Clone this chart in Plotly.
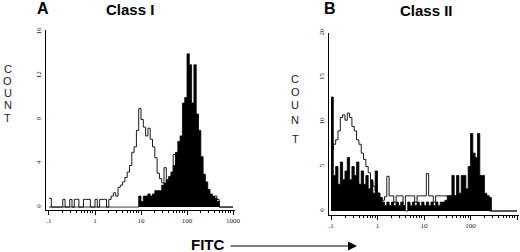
import numpy as np
import plotly.graph_objects as go

# ---------------- data ----------------
# histogram channels: 80 bins, 0.05 decade each, starting at FITC = 0.1
BIN_LOG_START = -1.0
BIN_LOG_WIDTH = 0.05

A_open = [0.8, 0, 0, 0, 0, 0, 0.7, 0, 0, 0.7,
          0, 0.7, 0.7, 0, 0, 0.7, 0.7, 0.7, 0, 0,
          0.7, 0, 0.7, 0.7, 0.7, 0, 0.7, 1, 1.3, 1,
          1.8, 2, 2.3, 2.7, 3.2, 3.8, 5, 5.5, 7, 9,
          8, 7.3, 6.5, 7.2, 6.2, 5.5, 4.5, 3.1, 2.6, 2.2,
          3.6, 2.2, 2.4, 2.2, 4.8, 3, 2.7, 2.5, 2.2, 2,
          1.5, 1.5, 1, 1, 1, 1, 1, 1, 1, 0.7,
          1, 0.7, 1, 0.7, 0, 0, 0, 0, 0, 0]
A_pos = [0, 0, 0, 0, 0, 0, 0, 0, 0, 0,
         0, 0, 0, 0, 0, 0, 0, 0, 0, 0,
         0, 0, 0, 0, 0, 0, 0, 0, 0, 0,
         0, 0, 0, 0, 0, 0, 0, 0, 0, 1,
         0.5, 1, 1, 1.2, 1, 1.2, 1.5, 1.5, 1.5, 2,
         2.2, 2.5, 2.8, 3.2, 3.8, 5, 6, 6.5, 9.5, 10,
         14, 13, 9.5, 13, 8.5, 7, 4.6, 3, 2.3, 1.6,
         1.2, 1, 0.8, 0.5, 0, 0, 0, 0, 0, 0]

B_open = [7, 7.5, 8, 9, 10.5, 10.8, 10.2, 11, 10.5, 9.5,
          9, 8, 7.5, 6.5, 5.8, 5, 4.3, 3.3, 2.8, 2.3,
          2, 1.5, 1.2, 1.6, 3.9, 1.7, 1.7, 1, 1.7, 1.7,
          1.7, 0.6, 1.7, 1.7, 1.7, 1.7, 1, 1.7, 1.7, 1.7,
          1.7, 4.2, 1.7, 1.7, 1, 1.7, 1.7, 1.7, 1.7, 1.7,
          1.7, 1.7, 1.7, 1.7, 1.7, 1.7, 1.7, 1.7, 1.7, 1.7,
          1.7, 1.7, 1.7, 1.7, 1.7, 1.7, 1.7, 1.7, 0, 0,
          0, 0, 0, 0, 0, 0, 0, 0, 0, 0]
B_pos = [12.8, 4, 5, 3, 5.5, 3.5, 4.5, 6, 3.5, 5,
         4, 5.5, 3, 4.5, 3, 4, 2.5, 3.5, 2, 4.5,
         2, 1.5, 1, 0.6, 1, 0.6, 1, 0.6, 1, 0.6,
         1, 0.6, 0, 1, 0.6, 1, 0.6, 1, 0.6, 1,
         0.6, 1, 0.6, 1, 0.6, 1, 0.6, 1, 1, 1.2,
         1.7, 1.7, 4, 1.7, 4, 2, 4, 4, 2.5, 5,
         8.7, 6.5, 6, 8.7, 4, 4, 2, 1.7, 1.5, 0,
         0, 0, 0, 0, 0, 0, 0, 0, 0, 0]

X_TICKS = [0.1, 1, 10, 100, 1000]
X_TICKTEXT = [".1", "1", "10", "100", "1000"]
A_YTICKS = [0, 4, 8, 12, 16]
B_YTICKS = [0, 5, 10, 15, 20]
COUNT_LETTERS = list("COUNT")

# ---------------- figure ----------------
W, H = 520, 252
edges = 10 ** (BIN_LOG_START + BIN_LOG_WIDTH * np.arange(len(A_open) + 1))
minor_vals = [d * 10 ** e for e in range(-1, 3) for d in range(2, 10)]


def step(vals):
    return list(vals) + [vals[-1]]


fig = go.Figure()
line_col = "#1a1a1a"
for xa, ya, openv, posv in (("x", "y", A_open, A_pos), ("x2", "y2", B_open, B_pos)):
    fig.add_trace(go.Scatter(x=edges, y=step(openv), mode="lines", line_shape="hv",
                             line=dict(color=line_col, width=1), xaxis=xa, yaxis=ya,
                             hoverinfo="skip", showlegend=False))
    fig.add_trace(go.Scatter(x=edges, y=step(posv), mode="lines", line_shape="hv",
                             line=dict(color="black", width=0.8), fill="tozeroy",
                             fillcolor="black", xaxis=xa, yaxis=ya,
                             hoverinfo="skip", showlegend=False))


def px_x(p):
    return p / W


def px_y(p):
    return 1 - p / H


xcommon = dict(type="log", showline=True, linecolor="black", linewidth=1,
               showgrid=False, zeroline=False, ticks="outside", ticklen=4,
               tickcolor="black", tickwidth=1, tickvals=X_TICKS, ticktext=X_TICKTEXT,
               automargin=False,
               tickfont=dict(family="Liberation Serif", size=7, color="#222"),
               minor=dict(tickvals=minor_vals, ticks="outside", ticklen=2,
                          tickcolor="black", showgrid=False))
ycommon = dict(showline=True, linecolor="black", linewidth=1, showgrid=False,
               zeroline=False, ticks="", tickangle=-90, ticklabelstandoff=1,
               automargin=False,
               tickfont=dict(family="Liberation Serif", size=7, color="#222"))

fig.update_layout(
    width=W, height=H, margin=dict(l=0, r=0, t=0, b=0, autoexpand=False),
    paper_bgcolor="white", plot_bgcolor="white",
    xaxis=dict(xcommon, domain=[px_x(46), px_x(235)], range=[-1.065, 3.043], anchor="y"),
    yaxis=dict(ycommon, domain=[px_y(210), px_y(30)], range=[-0.27, 16.18],
               tickvals=A_YTICKS, anchor="x"),
    xaxis2=dict(xcommon, domain=[px_x(329), px_x(519)], range=[-1.043, 3.043], anchor="y2"),
    yaxis2=dict(ycommon, domain=[px_y(215), px_y(33)], range=[-0.45, 20],
                tickvals=B_YTICKS, anchor="x2"),
)

bold = dict(family="Liberation Sans", color="black")
ann = []


def label(text, x, y, size, fam=None):
    f = dict(bold, size=size)
    if fam:
        f["family"] = fam
    ann.append(dict(text=text, x=px_x(x), y=px_y(y), xref="paper", yref="paper",
                    xanchor="center", yanchor="middle", showarrow=False, font=f))


label("<b>A</b>", 42.5, 9, 16)
label("<b>Class I</b>", 130, 9.5, 15)
label("<b>B</b>", 330, 9, 16)
label("<b>Class II</b>", 426, 11, 15)
label("<b>FITC</b>", 207.5, 244, 15)

for ch, yy in zip(COUNT_LETTERS, [69, 81, 93, 105, 118]):
    ann.append(dict(text=ch, x=px_x(7.5), y=px_y(yy), xref="paper", yref="paper",
                    xanchor="center", yanchor="middle", showarrow=False,
                    font=dict(family="Liberation Sans", size=11, color="#222")))
for ch, yy in zip(COUNT_LETTERS, [79, 92, 105, 120, 139]):
    ann.append(dict(text=ch, x=px_x(295), y=px_y(yy), xref="paper", yref="paper",
                    xanchor="center", yanchor="middle", showarrow=False,
                    font=dict(family="Liberation Sans", size=11, color="#222")))

ann.append(dict(text="", x=px_x(357), y=px_y(246), xref="paper", yref="paper",
                ax=-128, ay=0, showarrow=True, arrowhead=2, arrowsize=1.5,
                arrowwidth=1.2, arrowcolor="black", standoff=0))

fig.update_layout(annotations=ann)
fig.write_html("out.html", config={"displayModeBar": False},
               post_script="document.body.style.margin='0';document.body.style.overflow='hidden';")
